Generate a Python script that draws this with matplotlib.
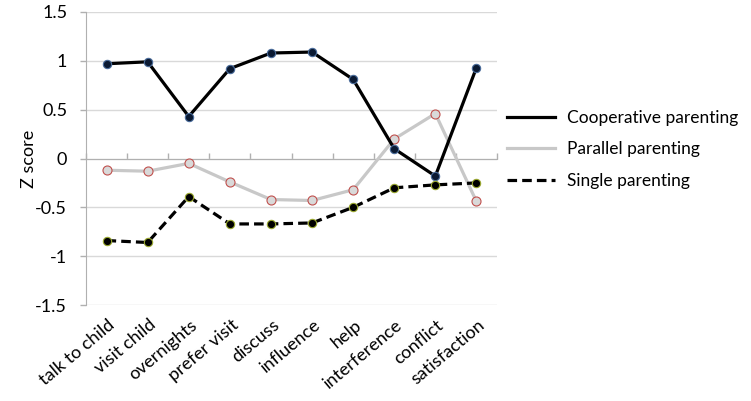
import matplotlib
matplotlib.use("Agg")
import matplotlib.pyplot as plt
from matplotlib.ticker import MultipleLocator, FuncFormatter
import matplotlib.transforms as mtransforms

plt.rcParams['font.family'] = ['Lato', 'DejaVu Sans']
plt.rcParams['axes.unicode_minus'] = False

categories = ["talk to child", "visit child", "overnights", "prefer visit", "discuss",
              "influence", "help", "interference", "conflict", "satisfaction"]
cooperative = [0.97, 0.99, 0.43, 0.92, 1.08, 1.09, 0.81, 0.10, -0.18, 0.93]
parallel = [-0.12, -0.13, -0.05, -0.24, -0.42, -0.43, -0.32, 0.20, 0.46, -0.44]
single = [-0.84, -0.86, -0.39, -0.67, -0.67, -0.66, -0.50, -0.30, -0.27, -0.25]

fig = plt.figure(figsize=(7.51, 4.01), dpi=100)
ax = fig.add_axes([86/751, 1-305/401, (497-86)/751, (305-12)/401])

x = list(range(len(categories)))
grid_c = '#d9d9d9'
axis_c = '#b0b0b0'

l1, = ax.plot(x, cooperative, color='black', lw=2.3, marker='o', ms=6,
              mfc='#0b1a33', mec='#4a6c9b', mew=0.8, label='Cooperative parenting', zorder=4)
l2, = ax.plot(x, parallel, color='#c8c8c8', lw=2.3, marker='o', ms=6.5,
              mfc='#d9d9d9', mec='#c0504d', mew=0.8, label='Parallel parenting', zorder=3)
l3, = ax.plot(x, single, color='black', lw=2.3, ls=(0, (3, 1.6)), marker='o', ms=6,
              mfc='black', mec='#9aa82f', mew=0.8, label='Single parenting', zorder=4)

ax.set_xlim(-0.5, len(categories) - 0.5)
ax.set_ylim(-1.5, 1.5)
ax.yaxis.set_major_locator(MultipleLocator(0.5))
ax.yaxis.set_major_formatter(FuncFormatter(lambda v, p: f"{v:g}"))
ax.grid(axis='y', color=grid_c, lw=1)
ax.set_axisbelow(True)

for s in ['top', 'right']:
    ax.spines[s].set_visible(False)
ax.spines['left'].set_color(axis_c)
ax.spines['bottom'].set_position(('data', 0))
ax.spines['bottom'].set_color(axis_c)

ax.tick_params(axis='y', length=4.5, color=axis_c, width=1, labelsize=13, pad=9, labelcolor='black')
ax.set_xticks([i - 0.5 for i in range(len(categories) + 1)])
ax.set_xticklabels([])
ax.tick_params(axis='x', direction='in', length=4.5, color=axis_c, width=1)

trans = mtransforms.blended_transform_factory(ax.transData, ax.transAxes)
for i, c in enumerate(categories):
    ax.text(i + 0.03, -0.04, c, transform=trans, rotation=40, rotation_mode='anchor',
            ha='right', va='top', fontsize=13)

ax.set_ylabel('Z score', fontsize=13)
ax.yaxis.set_label_coords(-0.12, 0.5)

fig.legend(handles=[l1, l2, l3], labels=[h.get_label() for h in (l1, l2, l3)],
           loc='upper left', bbox_to_anchor=(491/751, 1-94/401), frameon=False,
           fontsize=12.5, handlelength=2.8, handletextpad=0.7, labelspacing=0.9,
           markerscale=0)
for h in fig.legends[0].legend_handles:
    h.set_marker('')

fig.savefig('out.png', dpi=100)
